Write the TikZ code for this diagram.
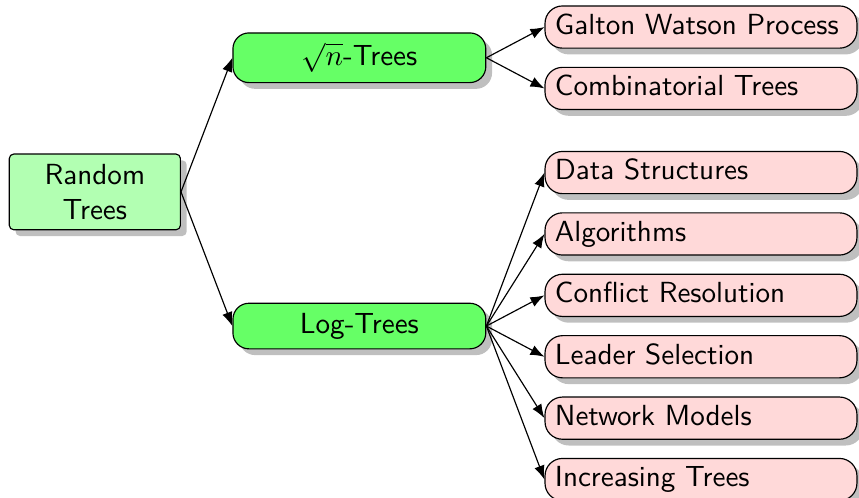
\documentclass[tikz,border=0pt]{standalone}
\usepackage{amsmath}
\usetikzlibrary{arrows.meta,positioning,calc,shadows}

\begin{document}
\begin{tikzpicture}[
    node distance=6.2pt,
    font=\sffamily,
    rootbox/.style={rectangle, draw, rounded corners=1.5pt, fill=green!30,
                    minimum width=58.8pt, minimum height=26pt, align=center,
                    drop shadow},
    midbox/.style={rectangle, draw, rounded corners=5.5pt, fill=green!60,
                   minimum width=86.9pt, minimum height=15.5pt,
                   text centered, drop shadow},
    leaf/.style={rectangle, draw, rounded corners=6pt, fill=red!15,
                 minimum height=14.5pt, inner xsep=3.4pt, inner ysep=1pt,
                 text width=100.4pt, text height=7pt, text depth=2pt,
                 align=left, drop shadow},
    arrow/.style={-Latex}
]
\useasboundingbox (0,0) rectangle (295.2pt,-171.1pt);

\node[leaf] (gw) at (240.9pt,-9.3pt) {Galton Watson Process};
\node[leaf, below=of gw] (comb) {Combinatorial Trees};
\node[leaf, below=14pt of comb] (data) {Data Structures};
\node[leaf, below=of data] (algo) {Algorithms};
\node[leaf, below=of algo] (conf) {Conflict Resolution};
\node[leaf, below=of conf] (lead) {Leader Selection};
\node[leaf, below=of lead] (netw) {Network Models};
\node[leaf, below=of netw] (incr) {Increasing Trees};

\node[midbox] (sqrtn) at ($(gw)!0.5!(comb) - (117.4pt,0)$) {$\sqrt{n}$-Trees};
\node[midbox] (logt) at ($(data)!0.5!(incr) - (117.4pt,0)$) {Log-Trees};

\node[rootbox] (root) at ($(sqrtn)!0.5!(logt) - (90.9pt,0)$) {Random\\Trees};

\foreach \a/\b in {root/sqrtn, root/logt, sqrtn/gw, sqrtn/comb,
                   logt/data, logt/algo, logt/conf, logt/lead,
                   logt/netw, logt/incr}
    \draw[arrow] (\a.east) -- (\b.west);
\end{tikzpicture}
\end{document}
